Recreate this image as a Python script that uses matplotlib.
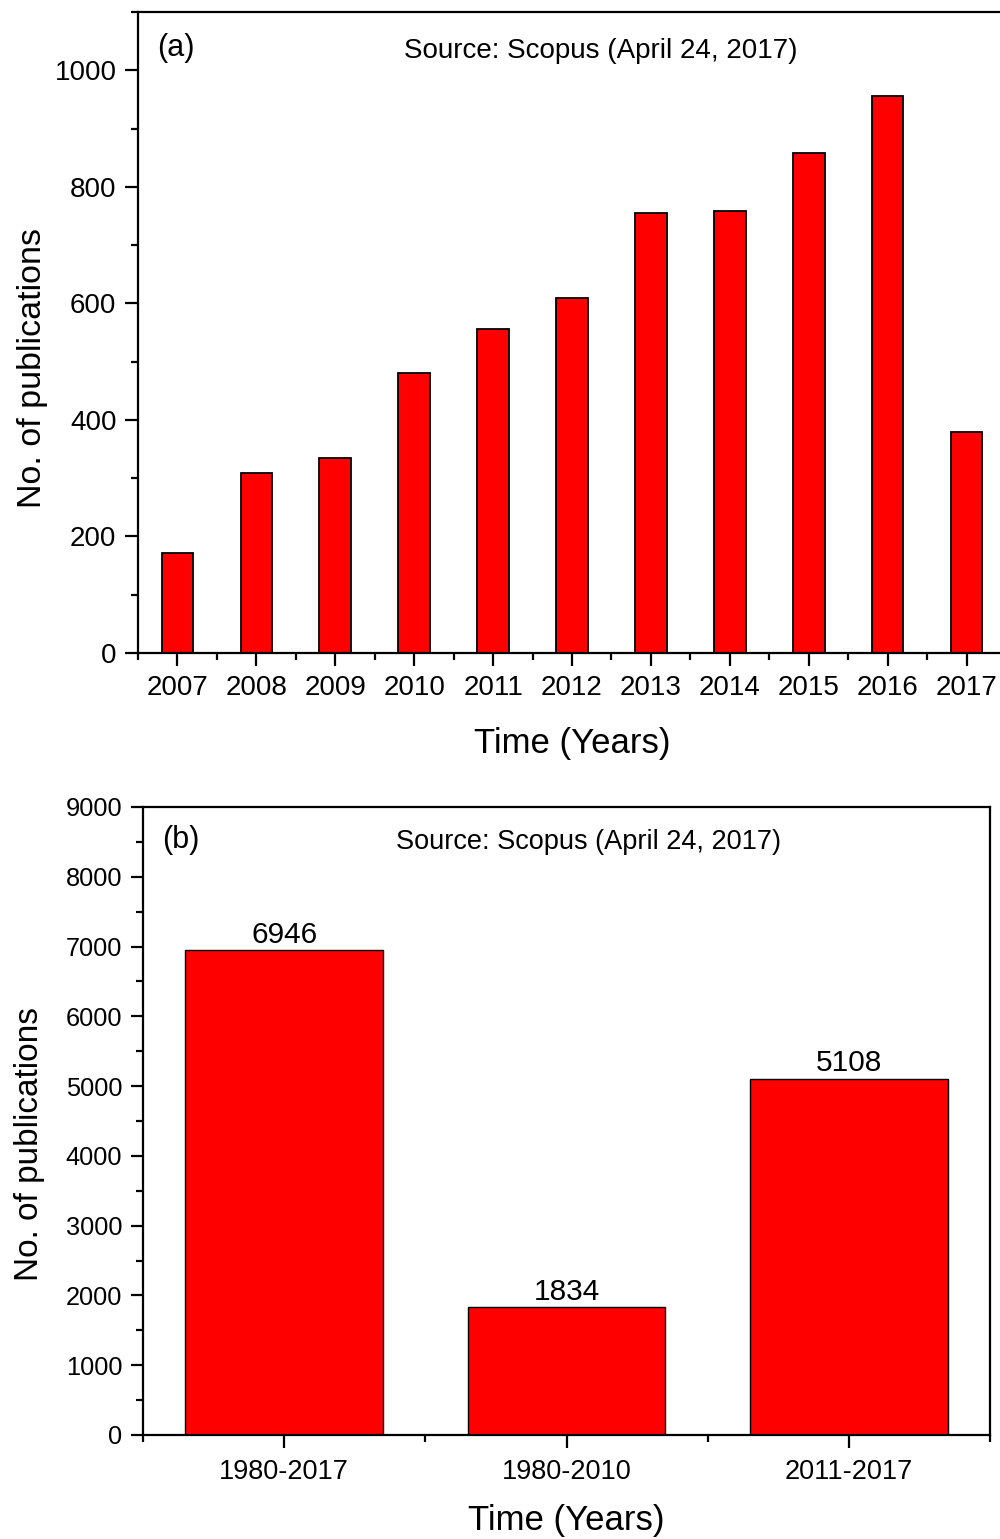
import matplotlib
matplotlib.use("Agg")
import matplotlib.pyplot as plt
from matplotlib.ticker import MultipleLocator

plt.rcParams['font.family'] = ['Liberation Sans', 'DejaVu Sans']

# Panel (a): yearly publications
years = [2007, 2008, 2009, 2010, 2011, 2012, 2013, 2014, 2015, 2016, 2017]
pubs_per_year = [172, 309, 334, 480, 556, 609, 755, 758, 858, 955, 379]

# Panel (b): cumulative publications by period
periods = ["1980-2017", "1980-2010", "2011-2017"]
pubs_per_period = [6946, 1834, 5108]

source_text = "Source: Scopus (April 24, 2017)"
bar_color = "#ff0000"

W, H = 1000, 1539
fig = plt.figure(figsize=(W / 100, H / 100), dpi=100)

def px_axes(left, top, right, bottom):
    return fig.add_axes([left / W, 1 - bottom / H, (right - left) / W, (bottom - top) / H])

def px_text(x, y, s, **kw):
    fig.text(x / W, 1 - y / H, s, **kw)

def style_axes(ax, major_len=9.5, minor_len=5):
    for sp in ax.spines.values():
        sp.set_linewidth(1.6)
    ax.tick_params(which='major', direction='out', length=major_len, width=1.6)
    ax.tick_params(which='minor', direction='out', length=minor_len, width=1.6)
    ax.tick_params(axis='y', which='both', right=False)
    ax.tick_params(axis='x', which='both', top=False)

# ---- panel (a)
ax1 = px_axes(138, 12, 1006, 653)
ax1.bar(years, pubs_per_year, width=0.4, color=bar_color, edgecolor='black', linewidth=1.3)
ax1.set_xlim(2006.5, 2017.5)
ax1.set_ylim(0, 1100)
ax1.set_xticks(years)
ax1.xaxis.set_minor_locator(MultipleLocator(0.5))
ax1.yaxis.set_major_locator(MultipleLocator(200))
ax1.yaxis.set_minor_locator(MultipleLocator(100))
style_axes(ax1)
ax1.tick_params(axis='both', which='major', labelsize=20, pad=6)
ax1.set_xlabel("Time (Years)", fontsize=25, labelpad=19)
ax1.set_ylabel("No. of publications", fontsize=24.5, labelpad=5)
ax1.yaxis.label.set_y(0.445)
px_text(157, 48, "(a)", fontsize=22, va='center', ha='left')
px_text(601, 51, source_text, fontsize=20, va='center', ha='center')

# ---- panel (b)
ax2 = px_axes(143, 807, 990, 1435)
xpos = range(len(periods))
ax2.bar(xpos, pubs_per_period, width=0.7, color=bar_color, edgecolor='black', linewidth=1.0)
for x, v in zip(xpos, pubs_per_period):
    ax2.text(x, v + 20, f"{v}", ha='center', va='bottom', fontsize=21.5)
ax2.set_xlim(-0.5, 2.5)
ax2.set_ylim(0, 9000)
ax2.set_xticks(list(xpos))
ax2.set_xticklabels(periods)
ax2.xaxis.set_minor_locator(MultipleLocator(0.5))
ax2.yaxis.set_major_locator(MultipleLocator(1000))
ax2.yaxis.set_minor_locator(MultipleLocator(500))
style_axes(ax2, major_len=9, minor_len=5)
ax2.tick_params(axis='y', which='major', labelsize=18.3, pad=6)
ax2.tick_params(axis='x', which='major', labelsize=19.5, pad=8)
ax2.set_xlabel("Time (Years)", fontsize=25, labelpad=14)
ax2.set_ylabel("No. of publications", fontsize=24, labelpad=15)
ax2.yaxis.label.set_y(0.463)
px_text(162, 840, "(b)", fontsize=22, va='center', ha='left')
px_text(588, 842, source_text, fontsize=19.5, va='center', ha='center')

fig.savefig("out.png", dpi=100, facecolor='white')
